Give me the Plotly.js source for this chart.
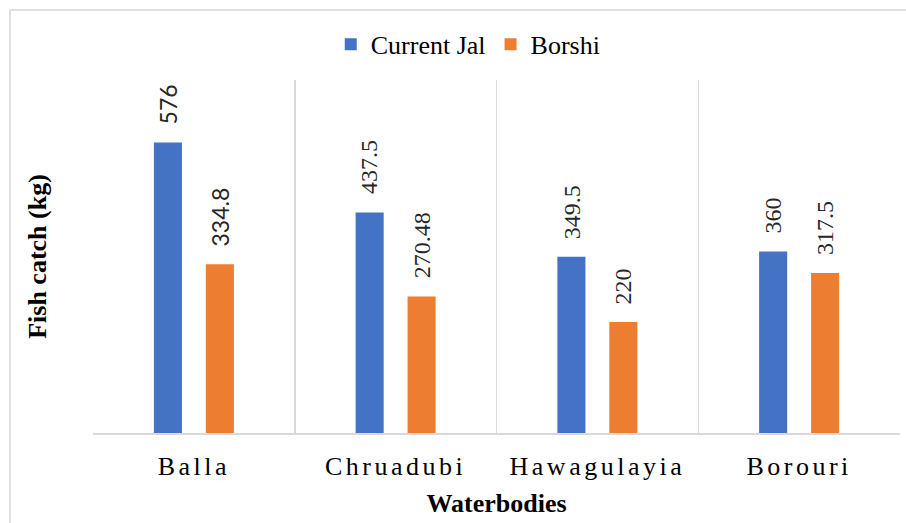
<!DOCTYPE html>
<html><head><meta charset="utf-8">
<script src="https://cdn.plot.ly/plotly-3.0.1.min.js"></script>
<style>
body{margin:0;padding:0;background:#fff;}
#wrap{position:relative;width:906px;height:523px;overflow:hidden;}
#frame{position:absolute;left:9px;top:9px;width:920px;height:540px;border:2px solid #e0e0e0;pointer-events:none;}
.xtick text{letter-spacing:3.5px;}
</style></head>
<body><div id="wrap"><div id="chart" style="width:906px;height:523px;"></div><div id="frame"></div></div>
<script>
const categories = ["Balla", "Chruadubi", "Hawagulayia", "Borouri"];
const currentJal = [576, 437.5, 349.5, 360];
const borshi = [334.8, 270.48, 220, 317.5];
const seriesNames = ["Current Jal", "Borshi"];
const labelFonts = ["Lato, Liberation Sans, sans-serif", "Liberation Serif, serif", "Liberation Serif, serif", "Liberation Serif, serif"];

function trace(name, vals, color){
  return {type:'bar', name:name, x:categories, y:vals, marker:{color:color}, hoverinfo:'none'};
}
const data = [trace(seriesNames[0], currentJal, '#4472C4'), trace(seriesNames[1], borshi, '#ED7D31')];

const annotations = [];
[[currentJal,-26],[borshi,26]].forEach(([vals, dx])=>{
  vals.forEach((v,i)=>{
    annotations.push({x:categories[i], y:v, xref:'x', yref:'y', text:String(v), showarrow:false,
      textangle:-90, xanchor:'center', yanchor:'bottom', xshift:dx, yshift:16,
      font:{family:labelFonts[i], size: i===0?23:24, color:'#262626'}});
  });
});

const serif = 'Liberation Serif, Times New Roman, serif';
const layout = {
  width:906, height:523,
  margin:{l:93, r:6, t:80, b:90},
  paper_bgcolor:'#fff', plot_bgcolor:'#fff',
  barmode:'group', bargap:0.485, bargroupgap:0.46,
  showlegend:true,
  legend:{orientation:'h', x:0.465, xanchor:'center', yref:'container', y:0.915, yanchor:'middle',
    font:{family:serif, size:26, color:'#000'}, itemwidth:30, traceorder:'normal'},
  annotations:annotations,
  xaxis:{type:'category', tickson:'boundaries', showgrid:true, gridcolor:'#d9d9d9', gridwidth:1.5,
    showline:true, linecolor:'#d9d9d9', linewidth:1.5, ticks:'', ticklabelstandoff:9,
    tickfont:{family:serif, size:26, color:'#000'},
    title:{text:'<b>Waterbodies</b>', font:{family:serif, size:26, color:'#000'}, standoff:14}},
  yaxis:{range:[0,700], showgrid:false, zeroline:false, showticklabels:false, ticks:'', showline:false,
    title:{text:'<b>Fish catch (kg)</b>', font:{family:serif, size:26, color:'#000'}, standoff:37}}
};
Plotly.newPlot('chart', data, layout, {displayModeBar:false, staticPlot:true});
</script></body></html>
